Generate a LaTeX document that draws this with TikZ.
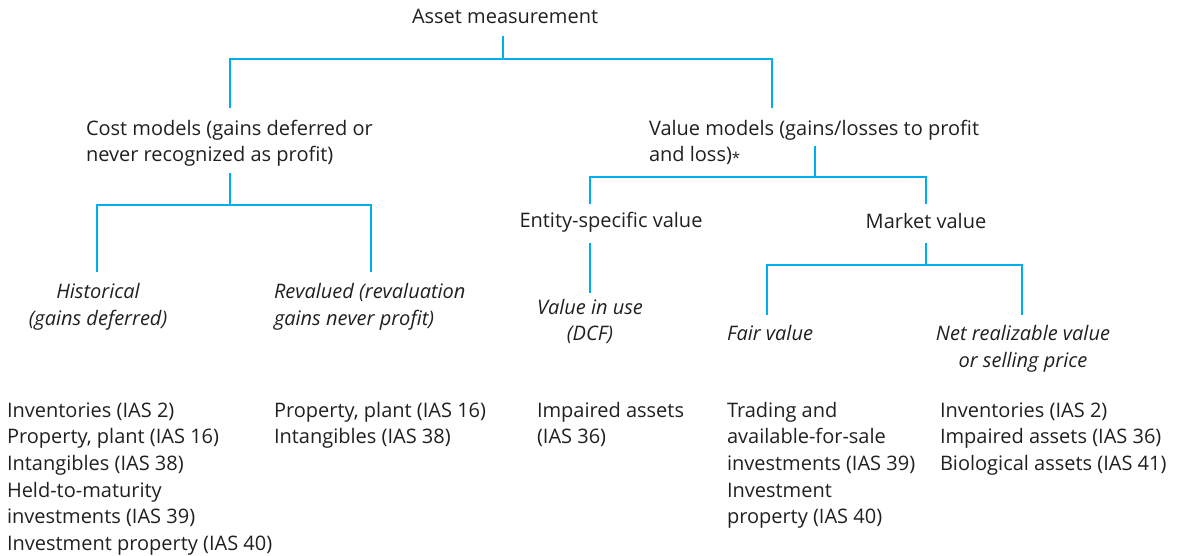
\documentclass[tikz,border=0pt]{standalone}
\usepackage{fontspec}
\setmainfont{Open Sans}
\definecolor{lc}{RGB}{0,174,239}
\definecolor{tc}{RGB}{35,31,32}
\begin{document}
\begin{tikzpicture}[x=1pt,y=-1pt,
  conn/.style={draw=lc,line width=2.8pt,line cap=butt,line join=miter},
  lbl/.style={inner sep=0pt,outer sep=0pt,text=tc,font=\fontsize{20}{26.7}\selectfont,align=left,anchor=base west},
  ilbl/.style={lbl,font=\fontsize{20}{26.7}\selectfont\itshape},
  clbl/.style={ilbl,align=center,anchor=base}]
\useasboundingbox (0,0) rectangle (1184,556);
% level texts (base anchor = baseline of the last line)
\node[lbl] (root) at (412,24) {Asset measurement};
\node[lbl] (cost) at (86,162) {Cost models (gains deferred or\\never recognized as profit)};
\node[lbl] (value) at (649,162) {Value models (gains/losses to profit\\and loss)\raisebox{-2pt}{\fontsize{15}{15}\selectfont *}};
\node[lbl,anchor=base] (entity) at (611,228) {Entity-specific value};
\node[lbl,anchor=base] (market) at (926,229) {Market value};
\node[clbl] (hist) at (98,325) {Historical\\(gains deferred)};
\node[ilbl] (reval) at (274,325) {Revalued (revaluation\\gains never profit)};
\node[clbl] (viu) at (590,341) {Value in use\\(DCF)};
\node[ilbl] (fair) at (727,340) {Fair value};
\node[clbl] (nrv) at (1023,367) {Net realizable value\\or selling price};
% lists
\node[lbl] (l1) at (7,550.5) {Inventories (IAS 2)\\Property, plant (IAS 16)\\Intangibles (IAS 38)\\Held-to-maturity\\investments (IAS 39)\\Investment property (IAS 40)};
\node[lbl] (l2) at (274,443.7) {Property, plant (IAS 16)\\Intangibles (IAS 38)};
\node[lbl] (l3) at (537,443.7) {Impaired assets\\(IAS 36)};
\node[lbl] (l4) at (727,523.8) {Trading and\\available-for-sale\\investments (IAS 39)\\Investment\\property (IAS 40)};
\node[lbl] (l5) at (940,470.4) {Inventories (IAS 2)\\Impaired assets (IAS 36)\\Biological assets (IAS 41)};
% connector points
\coordinate (r0) at (503,36);
\coordinate (r1) at (503,59);
\coordinate (ra) at (230,59);
\coordinate (ra2) at (230,108);
\coordinate (rb) at (772,59);
\coordinate (rb2) at (772,108);
\coordinate (c0) at (230,173);
\coordinate (c1) at (230,205);
\coordinate (ca) at (97,205);
\coordinate (ca2) at (97,272);
\coordinate (cb) at (371,205);
\coordinate (cb2) at (371,272);
\coordinate (v0) at (815,146);
\coordinate (v1) at (815,177);
\coordinate (va) at (590,177);
\coordinate (va2) at (590,204);
\coordinate (vb) at (926,177);
\coordinate (vb2) at (926,204);
\coordinate (e0) at (590,243);
\coordinate (e1) at (590,293);
\coordinate (m0) at (926,243);
\coordinate (m1) at (926,265);
\coordinate (ma) at (767,265);
\coordinate (ma2) at (767,315);
\coordinate (mb) at (1022,265);
\coordinate (mb2) at (1022,315);
% connectors
\draw[conn] (r0) -- (r1);
\draw[conn] (ra2) -- (ra) -- (rb) -- (rb2);
\draw[conn] (c0) -- (c1);
\draw[conn] (ca2) -- (ca) -- (cb) -- (cb2);
\draw[conn] (v0) -- (v1);
\draw[conn] (va2) -- (va) -- (vb) -- (vb2);
\draw[conn] (e0) -- (e1);
\draw[conn] (m0) -- (m1);
\draw[conn] (ma2) -- (ma) -- (mb) -- (mb2);
\end{tikzpicture}
\end{document}
